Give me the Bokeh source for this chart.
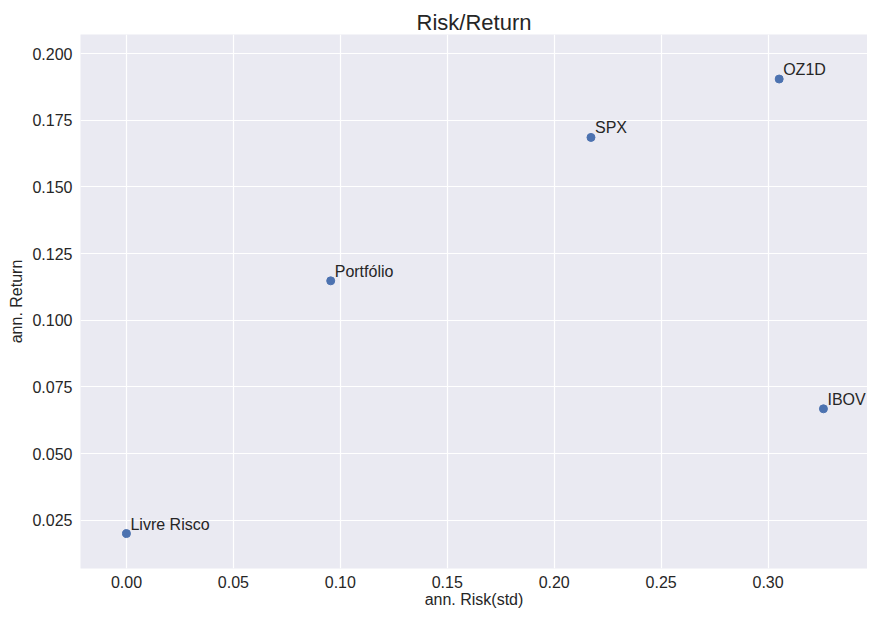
from bokeh.plotting import figure
from bokeh.models import ColumnDataSource, Range1d, FixedTicker, NumeralTickFormatter, LabelSet
from bokeh.core.properties import value
from bokeh.embed import file_html
from bokeh.resources import INLINE

# Data
names = ["Livre Risco", "Portfólio", "SPX", "OZ1D", "IBOV"]
risk = [0.0, 0.0955, 0.2172, 0.3052, 0.3259]
ret = [0.020, 0.1148, 0.1686, 0.1905, 0.0668]
x_ticks = [0.00, 0.05, 0.10, 0.15, 0.20, 0.25, 0.30]
y_ticks = [0.025, 0.050, 0.075, 0.100, 0.125, 0.150, 0.175, 0.200]

FONT = "Liberation Sans"
TXT = "#262626"

src = ColumnDataSource(dict(x=risk, y=ret, name=names))

p = figure(width=867, height=610, output_backend="svg", toolbar_location=None,
           x_range=Range1d(-0.0215, 0.3465), y_range=Range1d(0.0069, 0.2072),
           min_border_left=80, min_border_right=0, min_border_top=34, min_border_bottom=40,
           title="Risk/Return")

p.background_fill_color = "#EAEAF2"
p.border_fill_color = "white"
p.outline_line_color = None

p.title.text_font = FONT
p.title.text_font_size = "22px"
p.title.text_font_style = "normal"
p.title.text_color = TXT
p.title.align = "center"
p.title.standoff = 0
p.title.offset = 8

for g in (p.xgrid, p.ygrid):
    g.grid_line_color = "white"
    g.grid_line_width = 1.2

p.xaxis.ticker = FixedTicker(ticks=x_ticks)
p.yaxis.ticker = FixedTicker(ticks=y_ticks)
p.xaxis.formatter = NumeralTickFormatter(format="0.00")
p.yaxis.formatter = NumeralTickFormatter(format="0.000")
p.xaxis.axis_label = "ann. Risk(std)"
p.yaxis.axis_label = "ann. Return"

for ax in (p.xaxis, p.yaxis):
    ax.axis_line_color = None
    ax.major_tick_line_color = None
    ax.minor_tick_line_color = None
    ax.major_tick_out = 0
    ax.major_tick_in = 0
    ax.major_label_text_font = FONT
    ax.major_label_text_font_size = "16px"
    ax.major_label_text_color = TXT
    ax.axis_label_text_font = FONT
    ax.axis_label_text_font_size = "16px"
    ax.axis_label_text_font_style = "normal"
    ax.axis_label_text_color = TXT

p.xaxis.major_label_standoff = 7
p.xaxis.axis_label_standoff = 0
p.yaxis.major_label_standoff = 8
p.yaxis.axis_label_standoff = 4

p.scatter("x", "y", source=src, size=8, color="#4C72B0", line_color="#4C72B0")

labels = LabelSet(x="x", y="y", text="name", source=src, x_offset=4, y_offset=4,
                  text_font=value(FONT), text_font_size="16px", text_color=TXT,
                  text_baseline="alphabetic")
p.add_layout(labels)

open("out.html", "w").write(file_html(p, INLINE))
